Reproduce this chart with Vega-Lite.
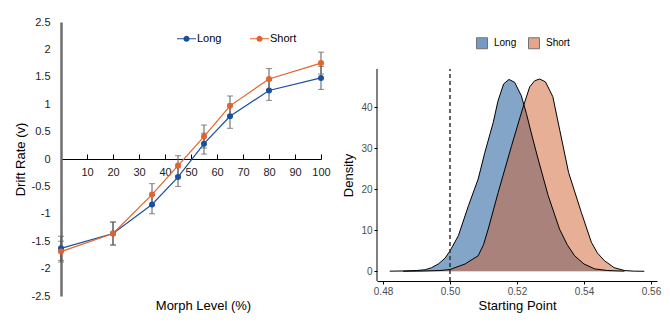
{
  "$schema": "https://vega.github.io/schema/vega-lite/v6.json",
  "padding": {"left": 14, "top": 16, "right": 2, "bottom": 2},
  "background": "white",
  "spacing": 11,
  "config": {
    "font": "Liberation Sans",
    "view": {"stroke": null},
    "axis": {"grid": false, "titleFontWeight": "normal", "titleColor": "black", "labelFlush": false}
  },
  "resolve": {"scale": {"color": "independent"}, "legend": {"color": "independent"}},
  "datasets": {
    "drift": [
      {"series": "Long", "morph": 0, "v": -1.63, "err": 0.22},
      {"series": "Long", "morph": 20, "v": -1.36, "err": 0.21},
      {"series": "Long", "morph": 35, "v": -0.83, "err": 0.17},
      {"series": "Long", "morph": 45, "v": -0.33, "err": 0.17},
      {"series": "Long", "morph": 55, "v": 0.28, "err": 0.19},
      {"series": "Long", "morph": 65, "v": 0.78, "err": 0.22},
      {"series": "Long", "morph": 80, "v": 1.25, "err": 0.18},
      {"series": "Long", "morph": 100, "v": 1.48, "err": 0.21},
      {"series": "Short", "morph": 0, "v": -1.69, "err": 0.19},
      {"series": "Short", "morph": 20, "v": -1.36, "err": 0.21},
      {"series": "Short", "morph": 35, "v": -0.65, "err": 0.2},
      {"series": "Short", "morph": 45, "v": -0.12, "err": 0.18},
      {"series": "Short", "morph": 55, "v": 0.41, "err": 0.21},
      {"series": "Short", "morph": 65, "v": 0.97, "err": 0.18},
      {"series": "Short", "morph": 80, "v": 1.46, "err": 0.19},
      {"series": "Short", "morph": 100, "v": 1.75, "err": 0.2}
    ],
    "density": [
      {"series": "Long", "sp": 0.482, "d": 0.05},
      {"series": "Long", "sp": 0.486, "d": 0.1},
      {"series": "Long", "sp": 0.49, "d": 0.2},
      {"series": "Long", "sp": 0.4926, "d": 0.4},
      {"series": "Long", "sp": 0.4945, "d": 0.9},
      {"series": "Long", "sp": 0.4965, "d": 1.8},
      {"series": "Long", "sp": 0.4985, "d": 3.2},
      {"series": "Long", "sp": 0.5, "d": 5.0},
      {"series": "Long", "sp": 0.5025, "d": 8.7},
      {"series": "Long", "sp": 0.5055, "d": 16.0},
      {"series": "Long", "sp": 0.5084, "d": 22.5},
      {"series": "Long", "sp": 0.5104, "d": 29.0},
      {"series": "Long", "sp": 0.5129, "d": 36.3},
      {"series": "Long", "sp": 0.5143, "d": 41.5},
      {"series": "Long", "sp": 0.516, "d": 45.7},
      {"series": "Long", "sp": 0.5176, "d": 46.8},
      {"series": "Long", "sp": 0.5193, "d": 46.1},
      {"series": "Long", "sp": 0.5213, "d": 42.8},
      {"series": "Long", "sp": 0.5228, "d": 38.5},
      {"series": "Long", "sp": 0.5245, "d": 33.0},
      {"series": "Long", "sp": 0.5263, "d": 27.4},
      {"series": "Long", "sp": 0.5293, "d": 18.5},
      {"series": "Long", "sp": 0.5327, "d": 10.3},
      {"series": "Long", "sp": 0.535, "d": 6.5},
      {"series": "Long", "sp": 0.5372, "d": 3.8},
      {"series": "Long", "sp": 0.54, "d": 1.8},
      {"series": "Long", "sp": 0.5432, "d": 0.6},
      {"series": "Long", "sp": 0.547, "d": 0.2},
      {"series": "Long", "sp": 0.5521, "d": 0.05},
      {"series": "Short", "sp": 0.486, "d": 0.02},
      {"series": "Short", "sp": 0.492, "d": 0.08},
      {"series": "Short", "sp": 0.497, "d": 0.2},
      {"series": "Short", "sp": 0.5, "d": 0.45},
      {"series": "Short", "sp": 0.5045, "d": 1.8},
      {"series": "Short", "sp": 0.5084, "d": 3.8},
      {"series": "Short", "sp": 0.51, "d": 6.5},
      {"series": "Short", "sp": 0.5114, "d": 10.3},
      {"series": "Short", "sp": 0.5144, "d": 19.3},
      {"series": "Short", "sp": 0.5184, "d": 30.7},
      {"series": "Short", "sp": 0.5218, "d": 40.0},
      {"series": "Short", "sp": 0.5238, "d": 45.0},
      {"series": "Short", "sp": 0.5253, "d": 46.5},
      {"series": "Short", "sp": 0.5268, "d": 46.9},
      {"series": "Short", "sp": 0.5285, "d": 46.2},
      {"series": "Short", "sp": 0.5307, "d": 42.6},
      {"series": "Short", "sp": 0.5327, "d": 34.7},
      {"series": "Short", "sp": 0.5354, "d": 24.1},
      {"series": "Short", "sp": 0.5392, "d": 14.4},
      {"series": "Short", "sp": 0.5422, "d": 7.1},
      {"series": "Short", "sp": 0.544, "d": 4.5},
      {"series": "Short", "sp": 0.5461, "d": 2.6},
      {"series": "Short", "sp": 0.549, "d": 0.9},
      {"series": "Short", "sp": 0.5521, "d": 0.2},
      {"series": "Short", "sp": 0.555, "d": 0.05},
      {"series": "Short", "sp": 0.558, "d": 0.02}
    ]
  },
  "hconcat": [
    {
      "width": 260,
      "height": 274,
      "data": {"name": "drift"},
      "encoding": {
        "x": {
          "field": "morph", "type": "quantitative",
          "scale": {"domain": [0, 100], "nice": false, "zero": false},
          "axis": {
            "orient": "bottom", "offset": -137,
            "values": [10, 20, 30, 40, 50, 60, 70, 80, 90, 100],
            "tickSize": -5, "tickColor": "black", "domainColor": "black", "domainWidth": 1,
            "labelPadding": 12, "labelFontSize": 11, "labelColor": "#222",
            "title": "Morph Level (%)", "titleFontSize": 13, "titlePadding": 122, "titleX": 142
          }
        },
        "y": {
          "field": "v", "type": "quantitative",
          "scale": {"domain": [-2.5, 2.5], "nice": false},
          "axis": {
            "values": [-2.5, -2, -1.5, -1, -0.5, 0, 0.5, 1, 1.5, 2, 2.5],
            "ticks": false, "domainColor": "#6e6e6e", "domainWidth": 2.5,
            "labelPadding": 11, "labelFontSize": 11, "labelColor": "#222",
            "labelExpr": "'' + datum.value",
            "title": "Drift Rate (v)", "titleFontSize": 13, "titlePadding": 4
          }
        }
      },
      "layer": [
        {
          "mark": {"type": "errorbar", "ticks": {"size": 6, "color": "#5a5a5a"}, "color": "#5a5a5a", "thickness": 1},
          "encoding": {"yError": {"field": "err"}, "detail": {"field": "series"}}
        },
        {
          "mark": {"type": "line", "strokeWidth": 1.2},
          "encoding": {
            "stroke": {"field": "series", "type": "nominal",
              "scale": {"domain": ["Long", "Short"], "range": ["#1b4f9c", "#e2632b"]},
              "legend": null}
          }
        },
        {
          "mark": {"type": "point", "filled": true, "size": 36, "opacity": 1},
          "encoding": {
            "color": {"field": "series", "type": "nominal",
              "scale": {"domain": ["Long", "Short"], "range": ["#1b4f9c", "#e2632b"]},
              "legend": {
                "orient": "none", "legendX": 116, "legendY": 7, "direction": "horizontal",
                "title": null, "padding": 0,
                "symbolType": "M-1,-0.055L1,-0.055L1,0.055L-1,0.055Z M0.32,0A0.32,0.32 0 1 1 -0.32,0A0.32,0.32 0 1 1 0.32,0Z",
                "symbolSize": 361, "symbolStrokeWidth": 0,
                "labelFontSize": 11, "labelOffset": 1, "columnPadding": 28, "labelColor": "black"
              }
            }
          }
        }
      ]
    },
    {
      "width": 280,
      "height": 259,
      "encoding": {
        "x": {
          "field": "sp", "type": "quantitative",
          "scale": {"domain": [0.4782, 0.5618], "nice": false, "zero": false},
          "axis": {
            "values": [0.48, 0.5, 0.52, 0.54, 0.56], "format": ".2f",
            "tickSize": 3, "tickColor": "black", "domainColor": "black",
            "labelPadding": 2, "labelFontSize": 10, "labelColor": "#4d4d4d",
            "title": "Starting Point", "titleFontSize": 13, "titlePadding": 3
          }
        },
        "y": {
          "field": "d", "type": "quantitative", "stack": null,
          "scale": {"domain": [-2.35, 60.81], "nice": false, "zero": false},
          "axis": {
            "values": [0, 10, 20, 30, 40], "domain": false,
            "tickSize": 3, "tickColor": "black",
            "labelPadding": 2, "labelFontSize": 10, "labelColor": "#4d4d4d",
            "title": "Density", "titleFontSize": 13, "titlePadding": 5, "titleY": 153
          }
        }
      },
      "layer": [
        {
          "data": {"name": "density"},
          "mark": {"type": "area", "opacity": 0.5},
          "encoding": {
            "y2": {"datum": 0},
            "color": {"field": "series", "type": "nominal",
              "scale": {"domain": ["Long", "Short"], "range": ["#054b91", "#cd5f2d"]},
              "legend": {
                "orient": "none", "legendX": 99, "legendY": 15, "padding": 0,
                "direction": "horizontal", "title": null,
                "symbolType": "square", "symbolSize": 121, "symbolOpacity": 0.55,
                "symbolStrokeColor": "black", "symbolStrokeWidth": 1,
                "labelFontSize": 10, "labelOffset": 6, "columnPadding": 9, "labelColor": "black"
              }
            }
          }
        },
        {
          "data": {"name": "density"},
          "mark": {"type": "line", "color": "black", "strokeWidth": 1},
          "encoding": {"detail": {"field": "series"}}
        },
        {
          "data": {"values": [{"ref": 0.5, "lo": -2.35, "hi": 49.35}]},
          "mark": {"type": "rule", "strokeDash": [4, 3], "strokeWidth": 1.5, "color": "#333"},
          "encoding": {"x": {"field": "ref", "type": "quantitative"}, "y": {"field": "lo", "type": "quantitative"}, "y2": {"field": "hi"}}
        },
        {
          "data": {"values": [{"ref": 0.4782, "lo": -2.35, "hi": 49.35}]},
          "mark": {"type": "rule", "strokeWidth": 1, "color": "black"},
          "encoding": {"x": {"field": "ref", "type": "quantitative"}, "y": {"field": "lo", "type": "quantitative"}, "y2": {"field": "hi"}}
        }
      ]
    }
  ]
}
